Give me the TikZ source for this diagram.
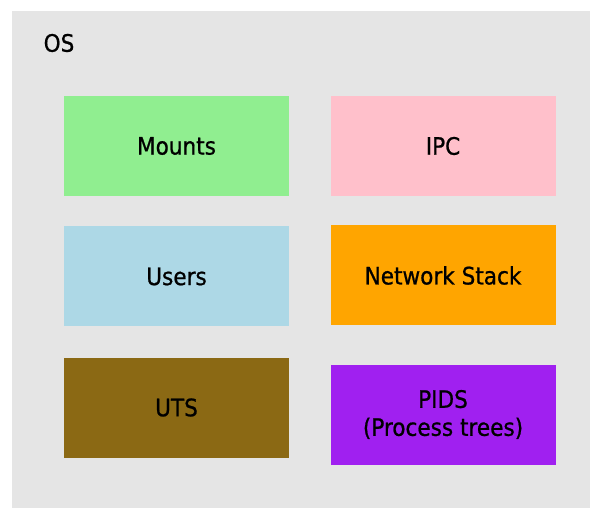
\documentclass[tikz,border=0pt]{standalone}
\usepackage{fontspec}
\setmainfont{DejaVu Sans Condensed}[FakeBold=0.8]
\definecolor{osgray}{HTML}{E5E5E5}
\definecolor{mountsgreen}{HTML}{90EE90}
\definecolor{ipcpink}{HTML}{FFC0CB}
\definecolor{userblue}{HTML}{ADD8E6}
\definecolor{netorange}{HTML}{FFA500}
\definecolor{utsbrown}{HTML}{8B6914}
\definecolor{pidpurple}{HTML}{A020F0}
\tikzset{
  nsbox/.style={draw=none, minimum width=225pt, minimum height=100pt,
    inner sep=0pt, align=center, font=\fontsize{24}{28}\selectfont, text=black},
}
\begin{document}
\begin{tikzpicture}[x=1pt, y=-1pt]
  \useasboundingbox (0,0) rectangle (590,508);
  % operating system frame
  \fill[osgray] (12,11) rectangle (590,508);
  \node[anchor=center, font=\fontsize{24}{28}\selectfont, text=black] (os) at (59,43) {OS};
  % namespace boxes
  \node[nsbox, fill=mountsgreen] (mounts) at (176.5,146) {Mounts};
  \node[nsbox, fill=ipcpink]     (ipc)    at (443,146)   {IPC};
  \node[nsbox, fill=userblue]    (users)  at (176.5,276.5) {Users};
  \node[nsbox, fill=netorange]   (net)    at (443,275.5) {Network Stack};
  \node[nsbox, fill=utsbrown]    (uts)    at (176.5,407.5) {UTS};
  \node[nsbox, fill=pidpurple]   (pids)   at (443,414.5) {PIDS\\(Process trees)};
\end{tikzpicture}
\end{document}
